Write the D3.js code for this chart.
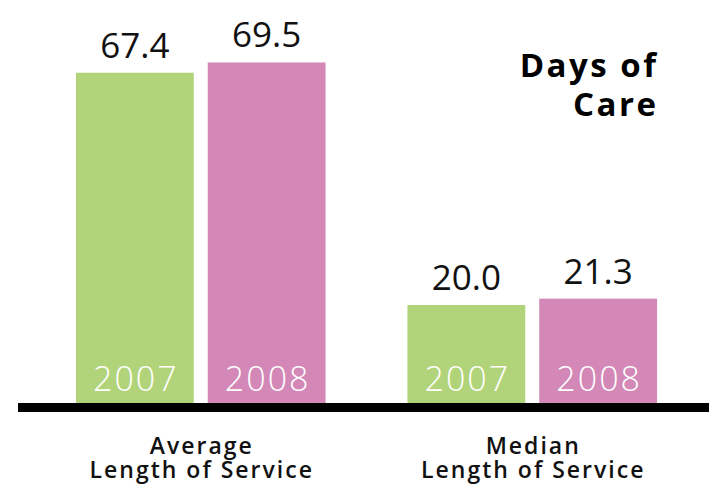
<!DOCTYPE html>
<html><head><meta charset="utf-8">
<script src="https://cdn.jsdelivr.net/npm/d3@7"></script>
<style>html,body{margin:0;padding:0;background:#fff;}svg{display:block;}</style>
</head><body>
<svg id="chart" width="709" height="485"></svg>
<script>
const categories = ["Average|Length of Service", "Median|Length of Service"];
const years = ["2007", "2008"];
const values2007 = [67.4, 20.0];
const values2008 = [69.5, 21.3];
const title = ["Days of", "Care"];
const colors = ["#b1d47a", "#d388b7"];

const svg = d3.select("#chart");
const W = 709, H = 485;
const baseY = 403;
const font = "'Open Sans', sans-serif";

const x0 = d3.scaleBand().domain(categories).range([35, 698]).paddingInner(0.247).paddingOuter(0.1235);
const x1 = d3.scaleBand().domain(years).range([0, x0.bandwidth()]).paddingInner(0.106).paddingOuter(0);
const y = d3.scaleLinear().domain([0, 70]).range([baseY, baseY - 343]);
const color = d3.scaleOrdinal().domain(years).range(colors);

const data = categories.map((c, i) => ({cat: c, vals: [
  {year: years[0], v: values2007[i]},
  {year: years[1], v: values2008[i]}
]}));

const g = svg.selectAll("g.grp").data(data).join("g").attr("class", "grp")
  .attr("transform", d => `translate(${x0(d.cat)},0)`);

const bars = g.selectAll("g.bar").data(d => d.vals).join("g").attr("class", "bar");
bars.append("rect")
  .attr("x", d => x1(d.year)).attr("width", x1.bandwidth())
  .attr("y", d => y(d.v)).attr("height", d => y(0) - y(d.v))
  .attr("fill", d => color(d.year));
bars.append("text")
  .attr("x", d => x1(d.year) + x1.bandwidth() / 2)
  .attr("y", d => y(d.v) - 15)
  .attr("text-anchor", "middle")
  .attr("font-family", font).attr("font-size", 35).attr("fill", "#111")
  .text(d => d.v.toFixed(1));
bars.append("text")
  .attr("x", d => x1(d.year) + x1.bandwidth() / 2 + 1)
  .attr("y", baseY - 12)
  .attr("text-anchor", "middle")
  .attr("font-family", font).attr("font-weight", 300).attr("font-size", 34)
  .attr("letter-spacing", 2).attr("fill", "#fff")
  .text(d => d.year);

// baseline
svg.append("rect").attr("x", 18).attr("y", baseY).attr("width", W - 18).attr("height", 9).attr("fill", "#000");

// category labels
const cl = svg.selectAll("text.cat").data(categories).join("text").attr("class", "cat")
  .attr("text-anchor", "middle")
  .attr("font-family", font).attr("font-weight", 600).attr("font-size", 23)
  .attr("letter-spacing", 2).attr("fill", "#111");
cl.each(function(d) {
  const t = d3.select(this);
  const cx = x0(d) + x0.bandwidth() / 2 + 1;
  d.split("|").forEach((line, i) => {
    t.append("tspan").attr("x", cx).attr("y", 454 + i * 24).text(line);
  });
});

// title
svg.append("g").selectAll("text").data(title).join("text")
  .attr("x", 658.5).attr("y", (d, i) => 77 + i * 39)
  .attr("text-anchor", "end")
  .attr("font-family", font).attr("font-weight", 700).attr("font-size", 33)
  .attr("letter-spacing", 2.5).attr("fill", "#000")
  .text(d => d);
</script>
</body></html>
